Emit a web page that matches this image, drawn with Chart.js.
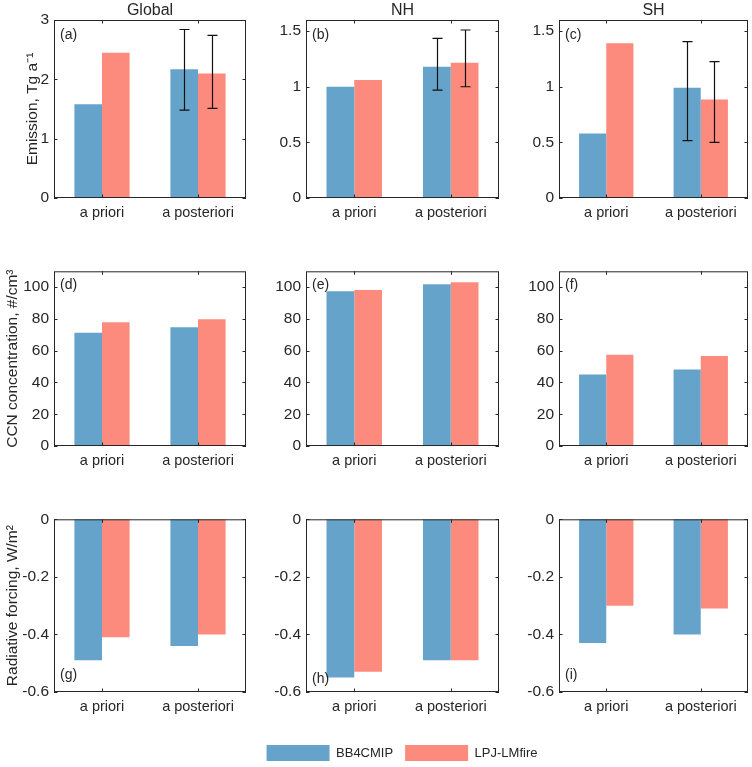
<!DOCTYPE html>
<html><head><meta charset="utf-8">
<script src="https://cdn.jsdelivr.net/npm/chart.js@4.4.0/dist/chart.umd.min.js"></script>
<style>
html,body{margin:0;padding:0;background:#fff;}
body{width:752px;height:767px;position:relative;overflow:hidden;}
canvas{position:absolute;}
</style></head><body>
<script>
// ---------------- DATA ----------------
const categories = ['a priori', 'a posteriori'];
const seriesNames = ['BB4CMIP', 'LPJ-LMfire'];
const regions = ['Global', 'NH', 'SH'];
const panelLetters = [['(a)','(b)','(c)'],['(d)','(e)','(f)'],['(g)','(h)','(i)']];
const yTitles = ['Emission, Tg a\u207B\u00B9', 'CCN concentration, #/cm\u00B3', 'Radiative forcing, W/m\u00B2'];

// Emission (Tg a-1): [Global, NH, SH], each [a priori, a posteriori]
const emissionBB4CMIP = [[1.58, 2.17], [1.00, 1.18], [0.58, 0.99]];
const emissionLPJ     = [[2.45, 2.10], [1.06, 1.215], [1.39, 0.885]];
// Error bars (a posteriori only)
const emissionBB4CMIPLow  = [[null, 1.48], [null, 0.97], [null, 0.515]];
const emissionBB4CMIPHigh = [[null, 2.84], [null, 1.435], [null, 1.405]];
const emissionLPJLow      = [[null, 1.51], [null, 1.00], [null, 0.50]];
const emissionLPJHigh     = [[null, 2.74], [null, 1.51], [null, 1.225]];

// CCN concentration (#/cm3)
const ccnBB4CMIP = [[71.3, 74.8], [97.5, 101.9], [45.0, 48.1]];
const ccnLPJ     = [[77.9, 79.8], [98.3, 103.1], [57.5, 56.6]];

// Radiative forcing (W/m2)
const rfBB4CMIP = [[-0.49, -0.44], [-0.55, -0.49], [-0.43, -0.40]];
const rfLPJ     = [[-0.41, -0.40], [-0.53, -0.49], [-0.30, -0.31]];

// y-axis ranges per row/column
const yMin  = [[0, 0, 0], [0, 0, 0], [-0.6, -0.6, -0.6]];
const yMax  = [[3, 1.6, 1.6], [110, 110, 110], [0, 0, 0]];
const yStep = [[1, 0.5, 0.5], [20, 20, 20], [0.2, 0.2, 0.2]];

// ---------------- STYLE / LAYOUT ----------------
const BLUE = '#66A3CB', RED = '#FC8B7E', INK = '#262626';
Chart.defaults.font.family = "'Liberation Sans', Arial, Helvetica, sans-serif";
Chart.defaults.color = INK;

const colLayout = [
  {left: 0,   width: 250, yw: 54},
  {left: 250, width: 253, yw: 56},
  {left: 503, width: 249, yw: 56}
];
const rowLayout = [
  {top: 0,   height: 228, padTop: 0},
  {top: 257, height: 219, padTop: 10},
  {top: 505, height: 217, padTop: 10}
];
const yTitlePad = [23, 3, 3];
const labelPos = [[15,15,15],[14,14,14],[-17,-12.5,-17]];

const framePlugin = {
  id: 'frame',
  afterDatasetsDraw(chart, args, opts) {
    const {ctx, chartArea: a, scales} = chart;
    const x = scales.x, y = scales.y;
    ctx.save();
    // error bars
    ctx.strokeStyle = '#111';
    ctx.lineWidth = 1.2;
    chart.data.datasets.forEach((ds, i) => {
      if (!ds.errLow) return;
      const meta = chart.getDatasetMeta(i);
      meta.data.forEach((bar, j) => {
        const lo = ds.errLow[j], hi = ds.errHigh[j];
        if (lo == null || hi == null) return;
        const px = Math.round(bar.x) + 0.5;
        const y1 = y.getPixelForValue(lo), y2 = y.getPixelForValue(hi);
        ctx.beginPath();
        ctx.moveTo(px, y1); ctx.lineTo(px, y2);
        ctx.moveTo(px - 5, y1); ctx.lineTo(px + 5, y1);
        ctx.moveTo(px - 5, y2); ctx.lineTo(px + 5, y2);
        ctx.stroke();
      });
    });
    // box
    ctx.strokeStyle = INK;
    ctx.lineWidth = 1;
    ctx.strokeRect(a.left + 0.5, a.top + 0.5, a.right - a.left - 1, a.bottom - a.top - 1);
    // inward ticks
    const tl = 3.5;
    ctx.beginPath();
    y.ticks.forEach(t => {
      const py = Math.round(y.getPixelForValue(t.value)) + 0.5;
      ctx.moveTo(a.left, py); ctx.lineTo(a.left + tl, py);
      ctx.moveTo(a.right, py); ctx.lineTo(a.right - tl, py);
    });
    categories.forEach((c, i) => {
      const px = Math.round(x.getPixelForValue(i)) + 0.5;
      ctx.moveTo(px, a.bottom); ctx.lineTo(px, a.bottom - tl);
      ctx.moveTo(px, a.top); ctx.lineTo(px, a.top + tl);
    });
    ctx.stroke();
    // panel label
    ctx.fillStyle = INK;
    ctx.font = "14px 'Liberation Sans', Arial, sans-serif";
    ctx.textAlign = 'left';
    ctx.textBaseline = 'middle';
    const ly = opts.dy >= 0 ? a.top + opts.dy : a.bottom + opts.dy;
    ctx.fillText(opts.label, a.left + 6, ly);
    ctx.restore();
  }
};

function fmt(v) { return String(+(+v).toFixed(2)); }

function valuesFor(row, col) {
  if (row === 0) return {
    bb: emissionBB4CMIP[col], lpj: emissionLPJ[col],
    bbLo: emissionBB4CMIPLow[col], bbHi: emissionBB4CMIPHigh[col],
    lpjLo: emissionLPJLow[col], lpjHi: emissionLPJHigh[col]
  };
  if (row === 1) return {bb: ccnBB4CMIP[col], lpj: ccnLPJ[col]};
  return {bb: rfBB4CMIP[col], lpj: rfLPJ[col]};
}

function makePanel(row, col) {
  const isLegend = (row === 2 && col === 1);
  const cl = colLayout[col], rl = rowLayout[row];
  let left = cl.left, width = cl.width, height = rl.height, yw = cl.yw;
  let rightW = 0, xH = 30;
  if (isLegend) {
    left = 202; width = 400; height = 262;
    yw = 306 - 202; rightW = 602 - 499; xH = 41;
  }
  const cv = document.createElement('canvas');
  cv.width = width; cv.height = height;
  cv.style.left = left + 'px'; cv.style.top = rl.top + 'px';
  cv.style.width = width + 'px'; cv.style.height = height + 'px';
  document.body.appendChild(cv);

  const v = valuesFor(row, col);
  const datasets = [
    {label: seriesNames[0], data: v.bb, backgroundColor: BLUE, borderWidth: 0,
     errLow: v.bbLo, errHigh: v.bbHi},
    {label: seriesNames[1], data: v.lpj, backgroundColor: RED, borderWidth: 0,
     errLow: v.lpjLo, errHigh: v.lpjHi}
  ];

  const scales = {
    x: {
      type: 'category',
      ticks: {padding: 6, font: {size: 14.5}, color: INK, maxRotation: 0, autoSkip: false},
      grid: {display: false, drawTicks: false},
      border: {display: false},
      afterFit(s) { s.height = xH; }
    },
    y: {
      type: 'linear', position: 'left',
      min: yMin[row][col], max: yMax[row][col],
      ticks: {stepSize: yStep[row][col], includeBounds: false, padding: 5,
              font: {size: 15.5}, color: INK, callback: (val) => fmt(val)},
      grid: {display: false, drawTicks: false},
      border: {display: false},
      title: col === 0 ? {display: true, text: yTitles[row], color: INK,
              font: {size: 15.5}, padding: {top: yTitlePad[row], bottom: 0}} : {display: false},
      afterFit(s) { s.width = yw; }
    }
  };
  if (isLegend) {
    scales.y2 = {
      type: 'linear', position: 'right', display: true,
      ticks: {display: false}, grid: {display: false, drawTicks: false},
      border: {display: false},
      afterFit(s) { s.width = rightW; }
    };
  }

  new Chart(cv, {
    type: 'bar',
    data: {labels: categories, datasets},
    options: {
      responsive: false, animation: false, devicePixelRatio: 1,
      categoryPercentage: 0.575, barPercentage: 1.0,
      layout: {padding: {top: rl.padTop, left: 0, right: isLegend ? 0 : 4, bottom: 0}},
      scales,
      plugins: {
        title: row === 0 ? {display: true, fullSize: false, text: regions[col], color: INK,
                font: {size: 16, weight: 'normal'}, padding: {top: 0.5, bottom: 0.3}} : {display: false},
        legend: isLegend ? {
          display: true, position: 'bottom', maxHeight: 34,
          labels: {boxWidth: 63, boxHeight: 16, padding: 12, color: INK, font: {size: 13}}
        } : {display: false},
        tooltip: {enabled: false},
        frame: {label: panelLetters[row][col], dy: labelPos[row][col]}
      }
    },
    plugins: [framePlugin]
  });
}

for (let r = 0; r < 3; r++) for (let c = 0; c < 3; c++) makePanel(r, c);
</script>
</body></html>
